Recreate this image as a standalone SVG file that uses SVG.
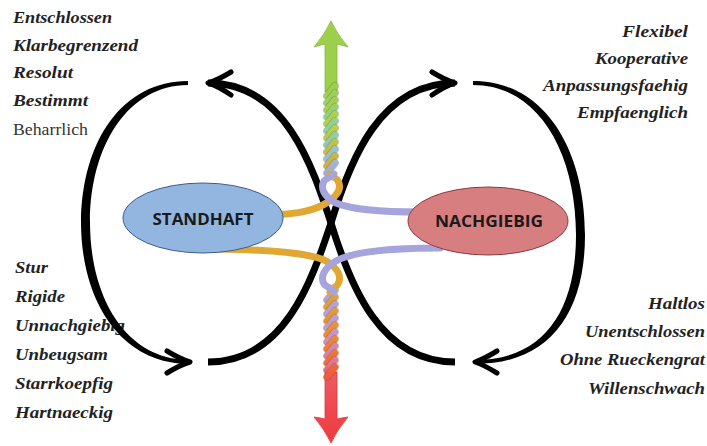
<svg xmlns="http://www.w3.org/2000/svg" width="707" height="446" viewBox="0 0 707 446">
<defs>
<style>
.lb{font-family:"Liberation Serif",serif;font-weight:bold;font-style:italic;font-size:16px;fill:#222}
.lr{font-family:"Liberation Serif",serif;font-size:16px;fill:#333}
.nt{font-family:"Open Sans","Liberation Sans",sans-serif;font-weight:bold;font-size:16px;fill:#1a1a1a}
.ln{fill:none;stroke:#000;stroke-width:7;stroke-linecap:butt}
.ah{fill:none;stroke:#000;stroke-width:5;stroke-linecap:round;stroke-linejoin:round}
.rope line{stroke-linecap:round}
.u{stroke:rgba(60,60,60,0.28);stroke-width:8}
.a,.b,.c,.d{stroke-width:6.6}
.a{stroke:url(#gA)}.b{stroke:url(#gB)}.c{stroke:url(#gC)}.d{stroke:url(#gD)}
</style>
<linearGradient id="gA" gradientUnits="userSpaceOnUse" x1="0" y1="85" x2="0" y2="180">
<stop offset="0" stop-color="#9ccf4c"/><stop offset="0.45" stop-color="#b4d24a"/><stop offset="0.75" stop-color="#c4b844"/><stop offset="1" stop-color="#e0a832"/></linearGradient>
<linearGradient id="gB" gradientUnits="userSpaceOnUse" x1="0" y1="85" x2="0" y2="180">
<stop offset="0" stop-color="#9ccf4c"/><stop offset="0.45" stop-color="#8fd39a"/><stop offset="0.75" stop-color="#9fbccc"/><stop offset="1" stop-color="#a6a4dc"/></linearGradient>
<linearGradient id="gC" gradientUnits="userSpaceOnUse" x1="0" y1="290" x2="0" y2="385">
<stop offset="0" stop-color="#e3a532"/><stop offset="0.5" stop-color="#ef8a30"/><stop offset="1" stop-color="#f0503a"/></linearGradient>
<linearGradient id="gD" gradientUnits="userSpaceOnUse" x1="0" y1="290" x2="0" y2="385">
<stop offset="0" stop-color="#a9a6dc"/><stop offset="0.4" stop-color="#c49ac8"/><stop offset="0.75" stop-color="#e0789a"/><stop offset="1" stop-color="#ef4a50"/></linearGradient>
<linearGradient id="gR" x1="0" y1="0" x2="0" y2="1">
<stop offset="0" stop-color="#ee5a62"/><stop offset="1" stop-color="#ee3a3e"/></linearGradient>
</defs>
<rect width="707" height="446" fill="#fff"/>

<g id="labels-top-left">
<text class="lb" x="13" y="23" textLength="99" lengthAdjust="spacingAndGlyphs">Entschlossen</text>
<text class="lb" x="13" y="51" textLength="125" lengthAdjust="spacingAndGlyphs">Klarbegrenzend</text>
<text class="lb" x="13" y="78" textLength="60" lengthAdjust="spacingAndGlyphs">Resolut</text>
<text class="lb" x="13" y="106" textLength="75" lengthAdjust="spacingAndGlyphs">Bestimmt</text>
<text class="lr" x="13" y="135" textLength="75" lengthAdjust="spacingAndGlyphs">Beharrlich</text>
</g>
<g id="labels-top-right">
<text class="lb" x="688" y="37" text-anchor="end" textLength="66" lengthAdjust="spacingAndGlyphs">Flexibel</text>
<text class="lb" x="688" y="64" text-anchor="end" textLength="93" lengthAdjust="spacingAndGlyphs">Kooperative</text>
<text class="lb" x="688" y="91" text-anchor="end" textLength="145" lengthAdjust="spacingAndGlyphs">Anpassungsfaehig</text>
<text class="lb" x="688" y="118" text-anchor="end" textLength="111" lengthAdjust="spacingAndGlyphs">Empfaenglich</text>
</g>
<g id="labels-bottom-left">
<text class="lb" x="15" y="273" textLength="33" lengthAdjust="spacingAndGlyphs">Stur</text>
<text class="lb" x="15" y="302" textLength="50" lengthAdjust="spacingAndGlyphs">Rigide</text>
<text class="lb" x="15" y="331" textLength="110" lengthAdjust="spacingAndGlyphs">Unnachgiebig</text>
<text class="lb" x="15" y="360" textLength="93" lengthAdjust="spacingAndGlyphs">Unbeugsam</text>
<text class="lb" x="15" y="389" textLength="98" lengthAdjust="spacingAndGlyphs">Starrkoepfig</text>
<text class="lb" x="15" y="418" textLength="98" lengthAdjust="spacingAndGlyphs">Hartnaeckig</text>
</g>
<g id="labels-bottom-right">
<text class="lb" x="705" y="309" text-anchor="end" textLength="57" lengthAdjust="spacingAndGlyphs">Haltlos</text>
<text class="lb" x="705" y="337" text-anchor="end" textLength="120" lengthAdjust="spacingAndGlyphs">Unentschlossen</text>
<text class="lb" x="705" y="365" text-anchor="end" textLength="145" lengthAdjust="spacingAndGlyphs">Ohne Rueckengrat</text>
<text class="lb" x="705" y="394" text-anchor="end" textLength="117" lengthAdjust="spacingAndGlyphs">Willenschwach</text>
</g>

<g id="connectors">
<path d="M188,81 C123,81 82,140 81,222 C81,300 120,364 190,364 L190,360 C126,360 90,298 90,222 C90,146 128,85 188,85 Z" fill="#000"/>
<path d="M473,81 C545,81 585,150 585,235 C585,315 548,364 475,364 L475,360 C543,360 576,312 576,235 C576,152 538,85 473,85 Z" fill="#000"/>
<path class="ln" d="M208,83 C285,83 312,165 331,223 C350,285 380,362 455,362"/>
<path class="ln" d="M208,362 C285,362 312,280 331,223 C350,160 380,83 455,83"/>
<path class="ah" d="M231,72 Q218,80 208,83 Q218,86 231,95"/>
<path class="ah" d="M432,72 Q445,80 455,83 Q445,86 432,95"/>
<path class="ah" d="M167,351 Q180,359 190,362 Q180,365 167,373"/>
<path class="ah" d="M497,351 Q484,359 475,362 Q484,365 497,373"/>
</g>

<g id="axis">
<path d="M331,21 Q337,34 348,47 Q341,45 337,44 L337,92 L325,92 L325,44 Q321,45 314,47 Q325,34 331,21 Z" fill="#9ccf4c" stroke="#86b840" stroke-width="0.8"/>
<path d="M331,443 Q337,430 348,417 Q341,418 337,419 L337,372 L325,372 L325,419 Q321,418 314,417 Q325,430 331,443 Z" fill="url(#gR)" stroke="#d83a40" stroke-width="0.8"/>
<g id="rope-top" class="rope">
<line class="u" x1="327" y1="96" x2="335" y2="86"/><line class="a" x1="327" y1="96" x2="335" y2="86"/>
<line class="u" x1="327" y1="103" x2="335" y2="93"/><line class="b" x1="327" y1="103" x2="335" y2="93"/>
<line class="u" x1="327" y1="110" x2="335" y2="100"/><line class="a" x1="327" y1="110" x2="335" y2="100"/>
<line class="u" x1="327" y1="117" x2="335" y2="107"/><line class="b" x1="327" y1="117" x2="335" y2="107"/>
<line class="u" x1="327" y1="124" x2="335" y2="114"/><line class="a" x1="327" y1="124" x2="335" y2="114"/>
<line class="u" x1="327" y1="131" x2="335" y2="121"/><line class="b" x1="327" y1="131" x2="335" y2="121"/>
<line class="u" x1="327" y1="138" x2="335" y2="128"/><line class="a" x1="327" y1="138" x2="335" y2="128"/>
<line class="u" x1="327" y1="145" x2="335" y2="135"/><line class="b" x1="327" y1="145" x2="335" y2="135"/>
<line class="u" x1="327" y1="152" x2="335" y2="142"/><line class="a" x1="327" y1="152" x2="335" y2="142"/>
<line class="u" x1="327" y1="159" x2="335" y2="149"/><line class="b" x1="327" y1="159" x2="335" y2="149"/>
<line class="u" x1="327" y1="166" x2="335" y2="156"/><line class="a" x1="327" y1="166" x2="335" y2="156"/>
<line class="u" x1="327" y1="173" x2="335" y2="163"/><line class="b" x1="327" y1="173" x2="335" y2="163"/>
</g>
<g id="rope-bottom" class="rope">
<line class="u" x1="327" y1="300" x2="335" y2="290"/><line class="d" x1="327" y1="300" x2="335" y2="290"/>
<line class="u" x1="327" y1="307" x2="335" y2="297"/><line class="c" x1="327" y1="307" x2="335" y2="297"/>
<line class="u" x1="327" y1="314" x2="335" y2="304"/><line class="d" x1="327" y1="314" x2="335" y2="304"/>
<line class="u" x1="327" y1="321" x2="335" y2="311"/><line class="c" x1="327" y1="321" x2="335" y2="311"/>
<line class="u" x1="327" y1="328" x2="335" y2="318"/><line class="d" x1="327" y1="328" x2="335" y2="318"/>
<line class="u" x1="327" y1="335" x2="335" y2="325"/><line class="c" x1="327" y1="335" x2="335" y2="325"/>
<line class="u" x1="327" y1="342" x2="335" y2="332"/><line class="d" x1="327" y1="342" x2="335" y2="332"/>
<line class="u" x1="327" y1="349" x2="335" y2="339"/><line class="c" x1="327" y1="349" x2="335" y2="339"/>
<line class="u" x1="327" y1="356" x2="335" y2="346"/><line class="d" x1="327" y1="356" x2="335" y2="346"/>
<line class="u" x1="327" y1="363" x2="335" y2="353"/><line class="c" x1="327" y1="363" x2="335" y2="353"/>
<line class="u" x1="327" y1="370" x2="335" y2="360"/><line class="d" x1="327" y1="370" x2="335" y2="360"/>
<line class="u" x1="327" y1="377" x2="335" y2="367"/><line class="c" x1="327" y1="377" x2="335" y2="367"/>
</g>
<g id="strands" fill="none" stroke-width="7" stroke-linecap="round">
<path d="M270,215 C300,214 316,210 328,202 C338,195 342,188 338,181 C336,177 331,177 330,174" stroke="#e0a832"/>
<path d="M420,212 C385,212 352,210 336,203 C324,197 320,188 324,181 C327,177 333,177 334,174" stroke="#a6a4dc"/>
<path d="M220,249 C280,250 315,254 328,262 C338,269 342,277 338,284 C336,288 331,288 330,292" stroke="#e0a832"/>
<path d="M440,248 C390,248 352,252 336,261 C324,268 320,277 324,284 C327,288 333,288 334,292" stroke="#a6a4dc"/>
</g>
</g>

<g id="standhaft">
<ellipse cx="203" cy="218" rx="80" ry="35" fill="#92b6e0" stroke="#3c5c8c" stroke-width="1"/>
<text class="nt" x="203" y="225" text-anchor="middle" textLength="101" lengthAdjust="spacingAndGlyphs">STANDHAFT</text>
</g>
<g id="nachgiebig">
<ellipse cx="488" cy="221" rx="80" ry="34" fill="#d77f80" stroke="#8c3c3c" stroke-width="1"/>
<text class="nt" x="489" y="227" text-anchor="middle" textLength="108" lengthAdjust="spacingAndGlyphs">NACHGIEBIG</text>
</g>
</svg>
